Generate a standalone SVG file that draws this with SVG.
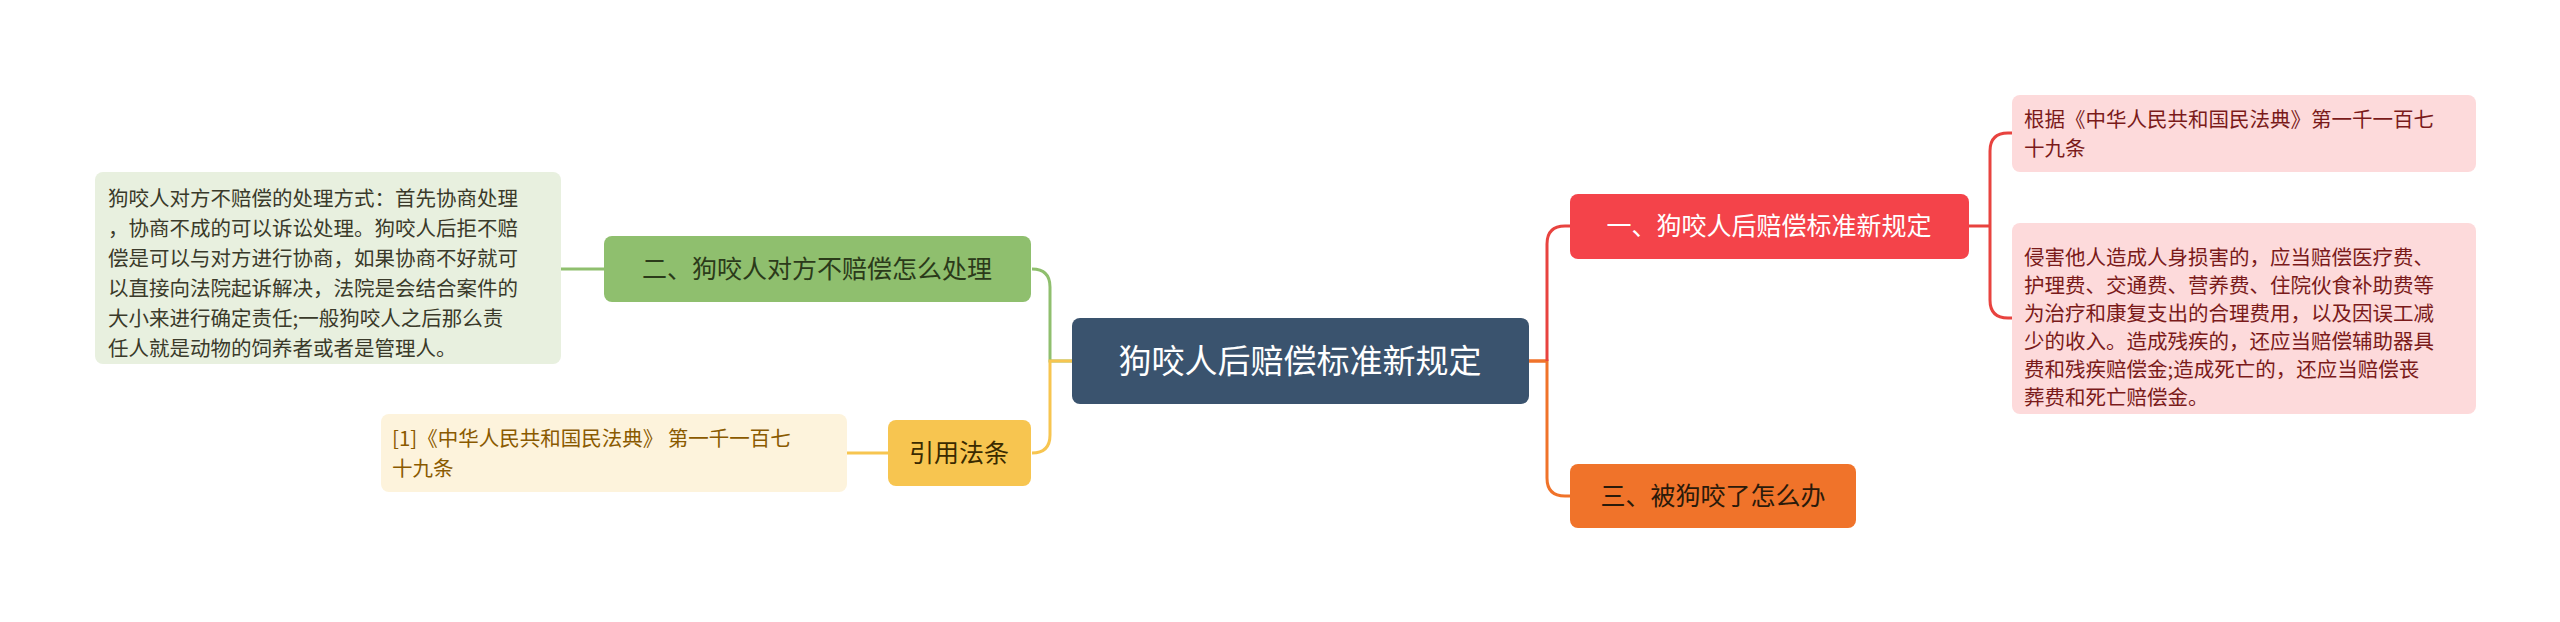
<svg xmlns="http://www.w3.org/2000/svg" width="2560" height="622" viewBox="0 0 2560 622">
<style>
text{font-family:"Noto Sans CJK SC","Liberation Sans",sans-serif}
.c{fill:none;stroke-width:3}
.lf{font-size:20.5px}
.br{font-size:25px}
</style>
<rect width="2560" height="622" fill="#fff"/>
<g id="connectors">
<path class="c" stroke="#f0732a" d="M1529 361 H1547 V478 Q1547 496 1565 496 H1570"/>
<path class="c" stroke="#f0732a" d="M1529 361 H1547"/>
<path class="c" stroke="#e8433f" d="M1547 361 V244 Q1547 226 1565 226 H1570"/>
<path class="c" stroke="#8fbf6e" d="M1072 361 H1050 V287 Q1050 269 1032 269"/>
<path class="c" stroke="#f7c550" d="M1072 361 H1050 V435 Q1050 453 1032 453"/>
<path class="c" stroke="#8fbf6e" d="M604 269 H561"/>
<path class="c" stroke="#f7c550" d="M888 453 H847"/>
<path class="c" stroke="#e8433f" d="M1969 226 H1990 M1990 226 V151 Q1990 133 2008 133 H2012 M1990 226 V300 Q1990 318 2008 318 H2012"/>
</g>
<g id="root"><rect x="1072" y="318" width="457" height="86" rx="8" fill="#3a536e"/>
<text x="1300" y="373" font-size="33" fill="#fff" text-anchor="middle">狗咬人后赔偿标准新规定</text></g>
<g id="n2"><rect x="604" y="236" width="427" height="66" rx="8" fill="#8fbf6e"/>
<text class="br" x="817" y="278" fill="#2b3a1a" text-anchor="middle">二、狗咬人对方不赔偿怎么处理</text></g>
<g id="n2leaf"><rect x="95" y="172" width="466" height="192" rx="8" fill="#e8f0df"/>
<text class="lf" fill="#3a3a2a"><tspan x="108" y="206">狗咬人对方不赔偿的处理方式：首先协商处理</tspan><tspan x="108" y="236">，协商不成的可以诉讼处理。狗咬人后拒不赔</tspan><tspan x="108" y="266">偿是可以与对方进行协商，如果协商不好就可</tspan><tspan x="108" y="296">以直接向法院起诉解决，法院是会结合案件的</tspan><tspan x="108" y="326">大小来进行确定责任;一般狗咬人之后那么责</tspan><tspan x="108" y="356">任人就是动物的饲养者或者是管理人。</tspan></text></g>
<g id="cite"><rect x="888" y="420" width="143" height="66" rx="8" fill="#f7c550"/>
<text class="br" x="959" y="462" fill="#3a2a00" text-anchor="middle">引用法条</text></g>
<g id="citeleaf"><rect x="381" y="414" width="466" height="78" rx="8" fill="#fdf3dc"/>
<text class="lf" fill="#8a5a00"><tspan x="392" y="446">[1]《中华人民共和国民法典》 第一千一百七</tspan><tspan x="392" y="476">十九条</tspan></text></g>
<g id="n1"><rect x="1570" y="194" width="399" height="65" rx="8" fill="#f4434a"/>
<text class="br" x="1769" y="235" fill="#fff" text-anchor="middle">一、狗咬人后赔偿标准新规定</text></g>
<g id="n1a"><rect x="2012" y="95" width="464" height="77" rx="8" fill="#fddadb"/>
<text class="lf" fill="#7a1a1a"><tspan x="2024" y="127">根据《中华人民共和国民法典》第一千一百七</tspan><tspan x="2024" y="156">十九条</tspan></text></g>
<g id="n1b"><rect x="2012" y="223" width="464" height="191" rx="8" fill="#fddadb"/>
<text class="lf" fill="#7a1a1a"><tspan x="2024" y="265">侵害他人造成人身损害的，应当赔偿医疗费、</tspan><tspan x="2024" y="293">护理费、交通费、营养费、住院伙食补助费等</tspan><tspan x="2024" y="321">为治疗和康复支出的合理费用，以及因误工减</tspan><tspan x="2024" y="349">少的收入。造成残疾的，还应当赔偿辅助器具</tspan><tspan x="2024" y="377">费和残疾赔偿金;造成死亡的，还应当赔偿丧</tspan><tspan x="2024" y="405">葬费和死亡赔偿金。</tspan></text></g>
<g id="n3"><rect x="1570" y="464" width="286" height="64" rx="8" fill="#f0732a"/>
<text class="br" x="1713" y="505" fill="#2a1a0a" text-anchor="middle">三、被狗咬了怎么办</text></g>
</svg>
